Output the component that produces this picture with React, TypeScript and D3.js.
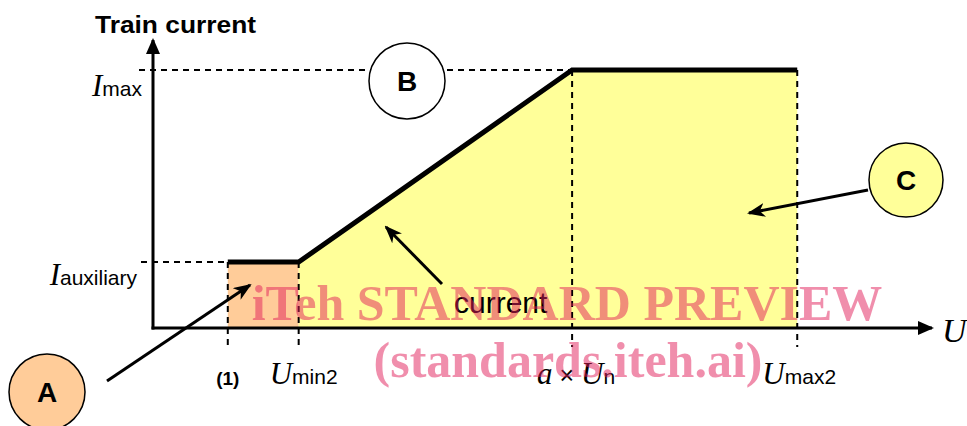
import React from 'react'
import * as d3 from 'd3'

// breakpoints on the voltage axis (arbitrary 0..100 units)
const uLabels = ['(1)', 'Umin2', 'a×Un', 'Umax2']
const uValues = [9.6, 18.7, 53.8, 82.7]
// current levels (arbitrary 0..100 units)
const iLabels = ['auxiliary', 'max']
const iValues = [22.9, 89.6]
// train current curve
const curveU = [9.6, 18.7, 53.8, 82.7]
const curveI = [22.9, 22.9, 89.6, 89.6]

const W = 967
const H = 426
const sans = '"Liberation Sans", Arial, sans-serif'
const serif = '"Liberation Serif", "Times New Roman", serif'
const orange = '#FFCC99'
const yellow = '#FFFF99'

const x = d3.scaleLinear().domain([0, 100]).range([153, 932])
const y = d3.scaleLinear().domain([0, 100]).range([328, 40])

function Sub(props: { main: string; sub: string; x: number; y: number; anchor?: string; pre?: string }) {
  return (
    <text x={props.x} y={props.y} textAnchor={props.anchor || 'middle'} fill="#000">
      {props.pre ? (
        <>
          <tspan fontFamily={serif} fontStyle="italic" fontSize={31}>{props.pre}</tspan>
          <tspan fontFamily={sans} fontSize={25}> × </tspan>
        </>
      ) : null}
      <tspan fontFamily={serif} fontStyle="italic" fontSize={31}>{props.main}</tspan>
      <tspan fontFamily={sans} fontSize={21}>{props.sub}</tspan>
    </text>
  )
}

export default function App() {
  const pts: [number, number][] = curveU.map((u, i) => [x(u), y(curveI[i])])
  const line = d3.line()
  const area = d3.area<[number, number]>().x(d => d[0]).y1(d => d[1]).y0(y(0))
  const zoneA = area([[x(uValues[0]), y(iValues[0])], [x(uValues[1]), y(iValues[0])]])
  const zoneC = area(pts.slice(1))
  const dash = '6,5'
  const lowV = y(0) + 19

  return (
    <svg width={W} height={H} style={{ position: 'absolute', left: 0, top: 0, background: '#fff' }}>
      <defs>
        <marker id="axhead" viewBox="0 0 16 14" refX="14" refY="7" markerWidth="16" markerHeight="14" markerUnits="userSpaceOnUse" orient="auto">
          <path d="M0,0 L16,7 L0,14 Z" fill="#000" />
        </marker>
        <marker id="pointer" viewBox="0 0 18 14" refX="16" refY="7" markerWidth="18" markerHeight="14" markerUnits="userSpaceOnUse" orient="auto">
          <path d="M0,0 L18,7 L0,14 L5,7 Z" fill="#000" />
        </marker>
      </defs>

      {/* zones */}
      <path d={zoneA || ''} fill={orange} />
      <path d={zoneC || ''} fill={yellow} />

      {/* dashed guides */}
      <g stroke="#000" strokeWidth={2} strokeDasharray={dash} fill="none">
        <line x1={139} x2={x(uValues[2])} y1={y(iValues[1])} y2={y(iValues[1])} />
        <line x1={141} x2={x(uValues[0])} y1={y(iValues[0])} y2={y(iValues[0])} />
        {uValues.map((u, i) => (
          <line key={i} x1={x(u)} x2={x(u)} y1={y(curveI[i])} y2={lowV} />
        ))}
      </g>

      {/* axes */}
      <line x1={x(0)} x2={x(0)} y1={y(0) + 1.5} y2={y(100)} stroke="#000" strokeWidth={3} markerEnd="url(#axhead)" />
      <line x1={x(0) - 1.5} x2={x(100)} y1={y(0)} y2={y(0)} stroke="#000" strokeWidth={3} markerEnd="url(#axhead)" />

      {/* current curve */}
      <path d={line(pts) || ''} fill="none" stroke="#000" strokeWidth={5} strokeLinejoin="miter" />

      {/* axis titles */}
      <text x={95} y={33} fontFamily={sans} fontWeight="bold" fontSize={24} textLength={161} lengthAdjust="spacingAndGlyphs">Train current</text>
      <text x={942} y={342} fontFamily={serif} fontStyle="italic" fontSize={34}>U</text>

      {/* current labels */}
      <Sub main="I" sub={iLabels[1]} x={142} y={96} anchor="end" />
      <Sub main="I" sub={iLabels[0]} x={137} y={285} anchor="end" />

      {/* voltage labels */}
      <text x={x(uValues[0])} y={385} textAnchor="middle" fontFamily={sans} fontWeight="bold" fontSize={19}>{uLabels[0]}</text>
      <Sub main="U" sub="min2" x={x(uValues[1]) + 5} y={384} />
      <Sub pre="a" main="U" sub="n" x={x(uValues[2]) + 4} y={384} />
      <Sub main="U" sub="max2" x={x(uValues[3]) + 2} y={384} />

      {/* annotations */}
      <text x={454} y={313} fontFamily={sans} fontSize={30}>current</text>
      <g stroke="#000" strokeWidth={3} markerEnd="url(#pointer)">
        <line x1={442} y1={284} x2={386} y2={227} />
        <line x1={107} y1={381} x2={250} y2={285} />
        <line x1={868} y1={190} x2={749} y2={213} />
      </g>

      <g stroke="#000" strokeWidth={1.5}>
        <circle cx={407} cy={81} r={38} fill="#fff" />
        <circle cx={47} cy={392} r={38} fill={orange} />
        <circle cx={906} cy={180} r={37} fill={yellow} />
      </g>
      <g fontFamily={sans} fontWeight="bold" fontSize={28} textAnchor="middle">
        <text x={407} y={91}>B</text>
        <text x={47} y={402}>A</text>
        <text x={906} y={190}>C</text>
      </g>

      {/* watermark */}
      <g fontFamily={serif} fontWeight="bold" fontSize={50} textAnchor="middle" fill="rgb(225,30,90)" fillOpacity={0.5}>
        <text x={567} y={320}>iTeh STANDARD PREVIEW</text>
        <text x={568} y={377}>(standards.iteh.ai)</text>
      </g>
    </svg>
  )
}
